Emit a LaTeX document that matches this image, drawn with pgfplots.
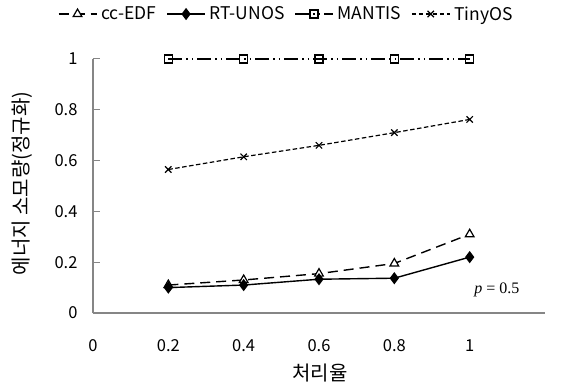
\documentclass[border=0pt]{standalone}
\usepackage{pgfplots}
\pgfplotsset{compat=1.18}
\usepackage{fontspec}
\setmainfont{Noto Sans CJK KR}
\newfontfamily\timesfont{Liberation Serif}
\definecolor{axgray}{RGB}{134,134,134}
\begin{document}
\begin{tikzpicture}[x=1bp,y=1bp]
\useasboundingbox (-93bp,-73bp) rectangle (475bp,313bp);
\begin{axis}[
  at={(0,0)}, anchor=south west,
  width=452bp, height=254bp, scale only axis,
  xmin=0, xmax=1.2, ymin=0, ymax=1,
  axis x line*=bottom, axis y line*=left,
  axis line style={axgray, line width=1.5bp, -},
  clip=false,
  font=\fontsize{16.5bp}{19bp}\selectfont,
  /pgf/number format/assume math mode=true,
  xtick={0,0.2,0.4,0.6,0.8,1},
  xticklabels={\mbox{0},\mbox{0.2},\mbox{0.4},\mbox{0.6},\mbox{0.8},\mbox{1}},
  major x tick style={draw=none},
  xticklabel style={anchor=base, yshift=-38bp},
  extra x ticks={0.5,1},
  extra x tick labels={},
  extra x tick style={major tick length=5bp, tick align=inside, tick style={axgray, line width=1bp}},
  ytick={0,0.2,0.4,0.6,0.8,1},
  yticklabels={\mbox{0},\mbox{0.2},\mbox{0.4},\mbox{0.6},\mbox{0.8},\mbox{1}},
  tick align=inside,
  major tick length=7bp,
  tick style={axgray, line width=1bp},
  yticklabel style={anchor=east, xshift=-12bp},
  xlabel={처리율},
  ylabel={에너지 소모량(정규화)},
  xlabel style={at={(axis description cs:0.502,-0.236)}, anchor=center, font=\fontsize{20bp}{22bp}\selectfont},
  ylabel style={at={(axis description cs:-0.157,0.51)}, anchor=center, font=\fontsize{20bp}{22bp}\selectfont},
  legend columns=-1,
  legend style={at={(0.43,1.177)}, anchor=center, draw=none, fill=none,
    font=\fontsize{17.5bp}{20bp}\selectfont,
    nodes={inner xsep=4bp},
    /tikz/every even column/.append style={column sep=6bp}},
  legend image code/.code={\draw[mark repeat=2,mark phase=2] plot coordinates {(0bp,0bp)(19bp,0bp)(38bp,0bp)};},
]
\addplot[black, line width=1.4bp, dash pattern=on 10bp off 6bp, mark=triangle*, mark size=5bp, mark options={solid, fill=white, line width=1.2bp}]
  coordinates {(0.2,0.11) (0.4,0.13) (0.6,0.155) (0.8,0.195) (1,0.31)};
\addlegendentry{cc-EDF}
\addplot[black, line width=1.4bp, mark=diamond*, mark size=5bp, mark options={solid, fill=black}]
  coordinates {(0.2,0.10) (0.4,0.11) (0.6,0.133) (0.8,0.137) (1,0.22)};
\addlegendentry{RT-UNOS}
\addplot[black, line width=1.2bp, dash pattern=on 14bp off 4bp on 1.5bp off 4bp on 1.5bp off 4bp, mark=square, mark size=4bp, mark options={solid, line width=1.2bp}]
  coordinates {(0.2,1) (0.4,1) (0.6,1) (0.8,1) (1,1)};
\addlegendentry{MANTIS}
\addplot[black, line width=1.2bp, dash pattern=on 4.5bp off 2.5bp, mark=x, mark size=4.5bp, mark options={solid, line width=1.2bp}]
  coordinates {(0.2,0.565) (0.4,0.615) (0.6,0.66) (0.8,0.71) (1,0.762)};
\addlegendentry{TinyOS}
\node[anchor=center, font=\timesfont\fontsize{16bp}{18bp}\selectfont] at (axis cs:1.072,0.09) {\textit{p} = 0.5};
\end{axis}
\end{tikzpicture}
\end{document}
